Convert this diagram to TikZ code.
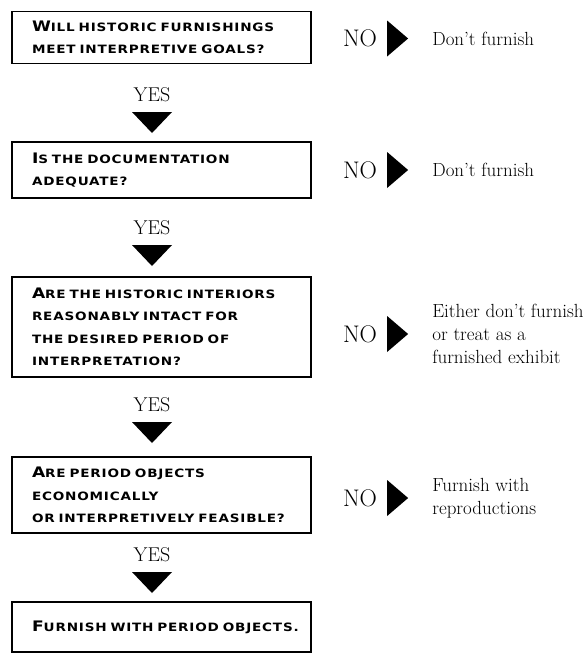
\documentclass[tikz,border=0pt]{standalone}
\usepackage{fontspec}
\newfontfamily\capfont{DejaVu Sans Bold}[FakeStretch=1.18,LetterSpace=7]
\usetikzlibrary{positioning, calc}
\newcommand\firstcap[1]{{\fontsize{14.5}{22.5}\selectfont #1}}
\tikzset{
	question/.style={rectangle, draw, line width=1.6pt, text width=259pt, inner xsep=20pt, align=left, font=\capfont\fontsize{11.5}{22.5}\selectfont},
	answer/.style={inner sep=0pt, font=\fontsize{24}{24}\selectfont},
	yes/.style={inner sep=0pt, font=\fontsize{20}{20}\selectfont},
	outcome/.style={inner sep=0pt, align=left, font=\fontsize{19}{23}\selectfont}
}

\begin{document}
\begin{tikzpicture}[x=1pt, y=-1pt]
	\useasboundingbox (0,0) rectangle (584,653);
	
	% Question boxes
	\node[question, minimum height=52pt] (q1) at (161.5,37.5) {\firstcap{W}ILL HISTORIC FURNISHINGS\\MEET INTERPRETIVE GOALS?};
	\node[question, minimum height=56pt] (q2) at (161.5,170) {\firstcap{I}S THE DOCUMENTATION\\ADEQUATE?};
	\node[question, minimum height=100pt] (q3) at (161.5,327) {\firstcap{A}RE THE HISTORIC INTERIORS\\REASONABLY INTACT FOR\\THE DESIRED PERIOD OF\\INTERPRETATION?};
	\node[question, minimum height=76pt] (q4) at (161.5,495) {\firstcap{A}RE PERIOD OBJECTS\\ECONOMICALLY\\OR INTERPRETIVELY FEASIBLE?};
	\node[question, minimum height=50pt] (q5) at (161.5,627) {\mbox{\firstcap{F}URNISH WITH PERIOD OBJECTS.}};
	
	% NO answers to the right
	\node[answer, right=31pt of q1, yshift=-1pt] (no1) {NO};
	\node[answer, right=31pt of q2] (no2) {NO};
	\node[answer, right=31pt of q3, yshift=-7pt] (no3) {NO};
	\node[answer, right=31pt of q4, yshift=-3pt] (no4) {NO};
	\foreach \n in {no1,no2,no3,no4}
		\fill ($(\n.east)+(10,-18)$) -- ++(21,18) -- ++(-21,18) -- cycle;
	
	\node[outcome, right=55pt of no1] (out1) {Don't furnish};
	\node[outcome, right=55pt of no2] (out2) {Don't furnish};
	\node[outcome, right=55pt of no3] (out3) {Either don't furnish\\or treat as a\\furnished exhibit};
	\node[outcome, right=55pt of no4] (out4) {Furnish with\\reproductions};
	
	% YES answers going down
	\node[yes] (yes1) at (152,95) {YES};
	\node[yes] (yes2) at (152,228) {YES};
	\node[yes] (yes3) at (152,405) {YES};
	\node[yes] (yes4) at (152,555) {YES};
	\foreach \n in {yes1,yes2,yes3,yes4}
		\fill ($(\n.center)+(-20,17)$) -- ++(40,0) -- ++(-20,21) -- cycle;
\end{tikzpicture}
\end{document}
